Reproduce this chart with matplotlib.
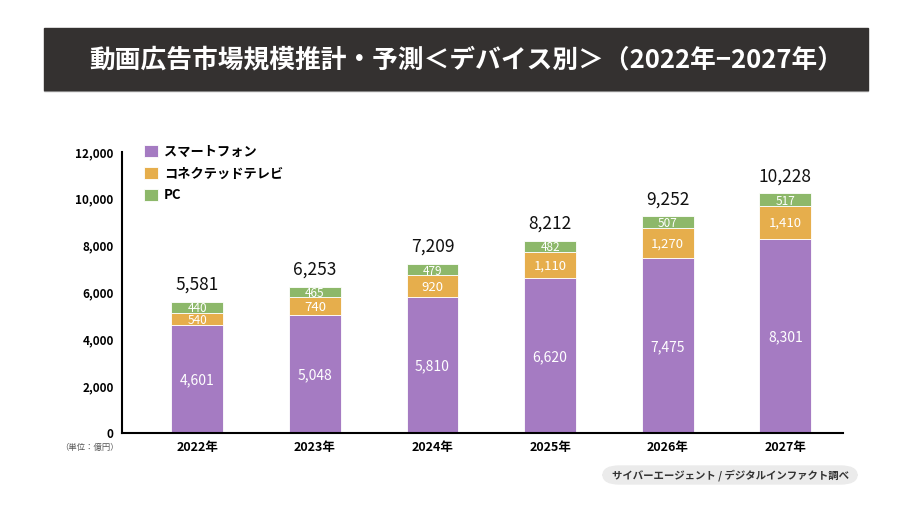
import matplotlib.pyplot as plt
from matplotlib.patches import Rectangle, FancyBboxPatch
import numpy as np

plt.rcParams['font.family'] = ['Noto Sans CJK JP', 'DejaVu Sans']

years = ['2022年', '2023年', '2024年', '2025年', '2026年', '2027年']
smartphone = [4601, 5048, 5810, 6620, 7475, 8301]
ctv = [540, 740, 920, 1110, 1270, 1410]
pc = [440, 465, 479, 482, 507, 517]
totals = [5581, 6253, 7209, 8212, 9252, 10228]
series_names = ['スマートフォン', 'コネクテッドテレビ', 'PC']
colors = ['#A57BC2', '#E6AE4C', '#8DB86A']

fig = plt.figure(figsize=(9.22, 5.14), dpi=100)

# title band with thin grey edge underneath
fig.patches.append(Rectangle((44 / 922, 1 - 91 / 514), 824 / 922, 1.5 / 514,
                             transform=fig.transFigure, color='#9A9A9A', zorder=0))
fig.patches.append(Rectangle((44 / 922, 1 - 90 / 514), 824 / 922, 62 / 514,
                             transform=fig.transFigure, color='#343130', zorder=0))
fig.text(466 / 922, 1 - 60 / 514, '動画広告市場規模推計・予測＜デバイス別＞（2022年−2027年）',
         color='white', fontsize=18.5, fontweight='bold', ha='center', va='center')

ax = fig.add_axes([122 / 922, 1 - 433 / 514, 721 / 922, 281 / 514])
x = np.arange(len(years))
w = 0.44
bottoms = np.zeros(len(years))
for vals, c, name in zip([smartphone, ctv, pc], colors, series_names):
    ax.bar(x, vals, w, bottom=bottoms, color=c, label=name, edgecolor='white', linewidth=0.6)
    for xi, b, v in zip(x, bottoms, vals):
        fs = 10 if v > 2000 else (8.5 if v < 600 else 9.5)
        ax.text(xi, b + v / 2, f'{v:,}', ha='center', va='center_baseline',
                color='white', fontsize=fs)
    bottoms += np.array(vals)

for xi, t in zip(x, totals):
    ax.text(xi, t + 350, f'{t:,}', ha='center', va='bottom', fontsize=12.5, color='#111111')

ax.set_xlim(-0.64, 5.49)
ax.set_ylim(0, 12000)
ax.set_yticks(np.arange(0, 12001, 2000))
ax.set_yticklabels([f'{v:,}' for v in range(0, 12001, 2000)], fontsize=8.5, fontweight='bold')
ax.set_xticks(x)
ax.set_xticklabels(years, fontsize=9, fontweight='bold')
ax.tick_params(length=0, pad=6)
for s in ['top', 'right']:
    ax.spines[s].set_visible(False)
ax.spines['left'].set_linewidth(1.5)
ax.spines['bottom'].set_linewidth(1.5)

leg = ax.legend(loc='upper left', bbox_to_anchor=(0.02, 1.055), frameon=False,
                fontsize=9.5, handlelength=1.0, handleheight=1.0, handletextpad=0.5,
                labelspacing=0.6, borderaxespad=0.2)
for t in leg.get_texts():
    t.set_fontweight('bold')

fig.text(90 / 922, 1 - 447 / 514, '（単位：億円）', fontsize=6, color='#555555', ha='center', va='center')

# source pill
fig.patches.append(FancyBboxPatch((603 / 922, 1 - 484 / 514), 254 / 922, 18 / 514,
                                  boxstyle='round,pad=0,rounding_size=0.018',
                                  transform=fig.transFigure, color='#EBEBEB', zorder=0))
fig.text(730 / 922, 1 - 475 / 514, 'サイバーエージェント / デジタルインファクト調べ',
         fontsize=7.5, fontweight='bold', color='#333333', ha='center', va='center')

fig.savefig('out.png', dpi=100)
